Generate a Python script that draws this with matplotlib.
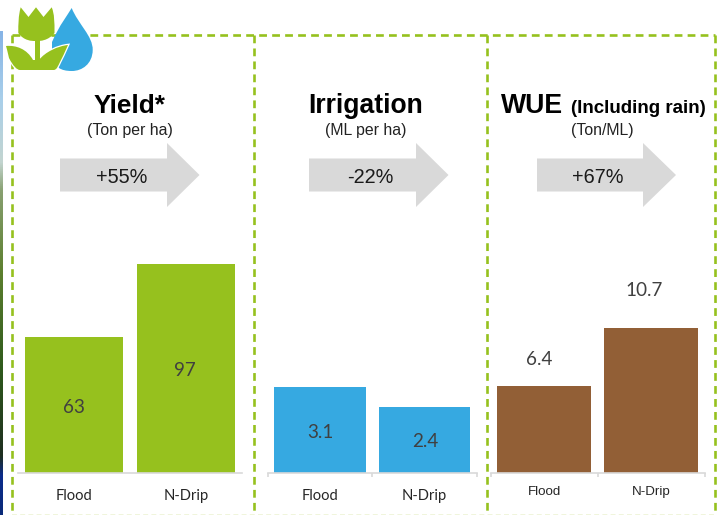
import numpy as np
import matplotlib
matplotlib.use('Agg')
import matplotlib.pyplot as plt
from matplotlib.colors import LinearSegmentedColormap
from matplotlib.patches import PathPatch, Polygon
from matplotlib.path import Path

# Data
categorias = ['Flood', 'N-Drip']
yield_ton = [63, 97]
irrigacao_ml = [3.1, 2.4]
wue_ton_ml = [6.4, 10.7]
rotulos_yield = ['63', '97']
rotulos_irrigacao = ['3.1', '2.4']
rotulos_wue = ['6.4', '10.7']
variacoes = ['+55%', '-22%', '+67%']

# Figure size and colours
W, H = 721, 515
VERDE = '#96C11E'
AZUL = '#36A9E1'
MARROM = '#925F36'
CINZA = '#D9D9D9'
TEXTO = '#404040'
ARIAL = 'Liberation Sans'
CALIBRI = 'Lato'

fig = plt.figure(figsize=(W / 100, H / 100), dpi=100, facecolor='white')

# Overlay axes in pixel coordinates for frame, arrows, titles and icon
fundo = fig.add_axes([0, 0, 1, 1], zorder=0)
fundo.axis('off')

# Photo strip on the left edge
cores_foto = [(0.0, '#86B4E6'), (0.14, '#A9CFEA'), (0.27, '#C3D5D0'), (0.33, '#88A070'),
              (0.50, '#5C7F2E'), (0.70, '#2F5A1C'), (0.88, '#1E2E20'), (0.92, '#0B2C8C'),
              (1.0, '#0A2A78')]
mapa = LinearSegmentedColormap.from_list('foto', cores_foto)
fundo.imshow(np.linspace(0, 1, 256).reshape(-1, 1), cmap=mapa, aspect='auto',
             extent=[0, 3, 515, 31], zorder=1)


def tracejado(xs, ys, cor=VERDE, lw=1.9):
    fundo.plot(xs, ys, color=cor, lw=lw, dashes=(2.95, 1.97), solid_capstyle='butt',
               dash_capstyle='butt', zorder=2)


# Dashed frame
tracejado([11.7, 714.5], [35, 35])
tracejado([11.7, 11.7], [35, 515])
tracejado([254.3, 254.3], [35, 515])
tracejado([487.3, 487.3], [35, 515])
tracejado([714.5, 714.5], [35, 515])
tracejado([11.7, 714.5], [514.5, 514.5], cor='#EEF3D6', lw=1.2)


# Grey arrows
def seta(x0, x1, x2):
    pontos = [(x0, 158.5), (x1, 158.5), (x1, 143), (x2, 175), (x1, 207), (x1, 191.5), (x0, 191.5)]
    fundo.add_patch(Polygon(pontos, closed=True, fc=CINZA, ec='none', zorder=2))


seta(60, 167, 199.5)
seta(309, 416, 448.5)
seta(537, 643, 676)

# Titles
fundo.text(130, 106, 'Yield*', family=ARIAL, weight='bold', size=18.9, ha='center', va='center')
fundo.text(130, 130, '(Ton per ha)', family=ARIAL, size=11.4, color='#222222', ha='center', va='center')
fundo.text(366, 106, 'Irrigation', family=ARIAL, weight='bold', size=19.1, ha='center', va='center')
fundo.text(366, 130, '(ML per ha)', family=ARIAL, size=11.4, color='#222222', ha='center', va='center')
fundo.text(501, 106, 'WUE', family=ARIAL, weight='bold', size=19.2, ha='left', va='center')
fundo.text(571, 108.5, '(Including rain)', family=ARIAL, weight='bold', size=13.5, ha='left', va='center')
fundo.text(602.5, 130, '(Ton/ML)', family=ARIAL, size=11.4, color='#222222', ha='center', va='center')

# Percent change inside the arrows
for x_texto, variacao in zip([122, 370, 598], variacoes):
    fundo.text(x_texto, 177.5, variacao, family=ARIAL, size=14.3, color='#1A1A1A',
               ha='center', va='center', zorder=3)

# Icon: drop
M, L, C, Z = Path.MOVETO, Path.LINETO, Path.CURVE4, Path.CLOSEPOLY
gota = Path([(71.7, 8), (78, 24), (93, 36), (92.7, 50), (92.5, 64), (82, 71), (72, 71),
             (66, 71), (62, 70), (59, 68), (52, 55), (52, 43), (52, 42), (60, 24), (67, 16), (71.7, 8), (71.7, 8)],
            [M, C, C, C, C, C, C, C, C, C, L, L, L, C, C, C, Z])
fundo.add_patch(PathPatch(gota, fc=AZUL, ec='none', zorder=4))

# Icon: tulip head, stem and leaves
cabeca = Path([(20.7, 7.3), (28.5, 17), (36, 7.3), (43.5, 17), (51.7, 7.3), (54.5, 14), (54.5, 22),
               (54.5, 33), (48, 41), (40, 41), (37, 41), (35, 41), (32, 41),
               (24, 41), (18.3, 33), (18.3, 24), (18.3, 16), (20.7, 7.3), (20.7, 7.3)],
              [M, L, L, L, L, C, C, C, C, C, L, L, C, C, C, C, C, C, Z])
caule = Polygon([(34.5, 38), (40, 38), (40, 62), (34.5, 62)], closed=True, fc=VERDE, ec='none', zorder=6)
folhas = Path([(6, 46), (16, 45), (27, 49), (33, 60), (37, 60), (37, 60), (39, 60),
               (45, 52), (58, 46), (68, 45), (65, 52), (62, 58), (60, 62),
               (58, 66), (57, 69.5), (54, 70), (20, 70), (20, 70), (17, 70), (13, 66), (9, 58), (8, 53), (6, 46), (6, 46)],
              [M, C, C, C, L, L, L, C, C, C, C, C, C, C, C, C, L, L, C, C, C, C, C, Z])
fundo.add_patch(PathPatch(folhas, fc=VERDE, ec='white', lw=1.8, zorder=5))
fundo.add_patch(PathPatch(folhas, fc=VERDE, ec='none', zorder=6))
fundo.add_patch(PathPatch(cabeca, fc=VERDE, ec='none', zorder=6))
fundo.add_patch(caule)

fundo.set_xlim(0, W)
fundo.set_ylim(H, 0)


# Bar panels: x0 and x1 are the ends of the axis line in pixels
def painel(x0, x1, valores, rotulos, cor, y_max, px_unidade, desloc, fonte, tam, y_tick, com_marcas):
    base = 472.5
    altura = y_max * px_unidade
    ax = fig.add_axes([x0 / W, (H - base) / H, (x1 - x0) / W, altura / H], zorder=1)
    ax.patch.set_alpha(0)
    pos = np.arange(len(categorias))
    ax.bar(pos, valores, width=0.878, color=cor)
    ax.set_xlim(-0.5, 1.5)
    ax.set_ylim(0, y_max)
    ax.yaxis.set_visible(False)
    for lado in ['top', 'left', 'right']:
        ax.spines[lado].set_visible(False)
    ax.spines['bottom'].set_color(CINZA)
    ax.spines['bottom'].set_linewidth(1.2)
    ax.set_xticks(pos)
    ax.set_xticklabels(categorias, family=fonte, size=tam, color='#262626')
    ax.tick_params(axis='x', which='major', length=0, pad=(y_tick - base - 7) * 0.72)
    if com_marcas:
        ax.set_xticks([-0.5, 0.5, 1.5], minor=True)
        ax.tick_params(axis='x', which='minor', length=3, width=1.2, color=CINZA)
    # Value labels, shifted in pixels from the bar
    for p, v, r, (dx, dy) in zip(pos, valores, rotulos, desloc):
        ax.annotate(r, (p, v), xytext=(dx * 0.72, -dy * 0.72), textcoords='offset points',
                    family=CALIBRI, size=13.6, color=TEXTO, ha='center', va='center')
    return ax


painel(18, 241.7, yield_ton, rotulos_yield, VERDE, 120, 2.145,
       [(0, 70), (-1, 106)], CALIBRI, 10.6, 496, False)
painel(268, 476.7, irrigacao_ml, rotulos_irrigacao, AZUL, 8, 27.5,
       [(0, 45), (1, 35)], CALIBRI, 10.6, 496, True)
painel(490.7, 705, wue_ton_ml, rotulos_wue, MARROM, 12, 13.5,
       [(-5, -27), (-7, -38)], ARIAL, 9.6, 493, True)

plt.savefig('out.png', dpi=100)
